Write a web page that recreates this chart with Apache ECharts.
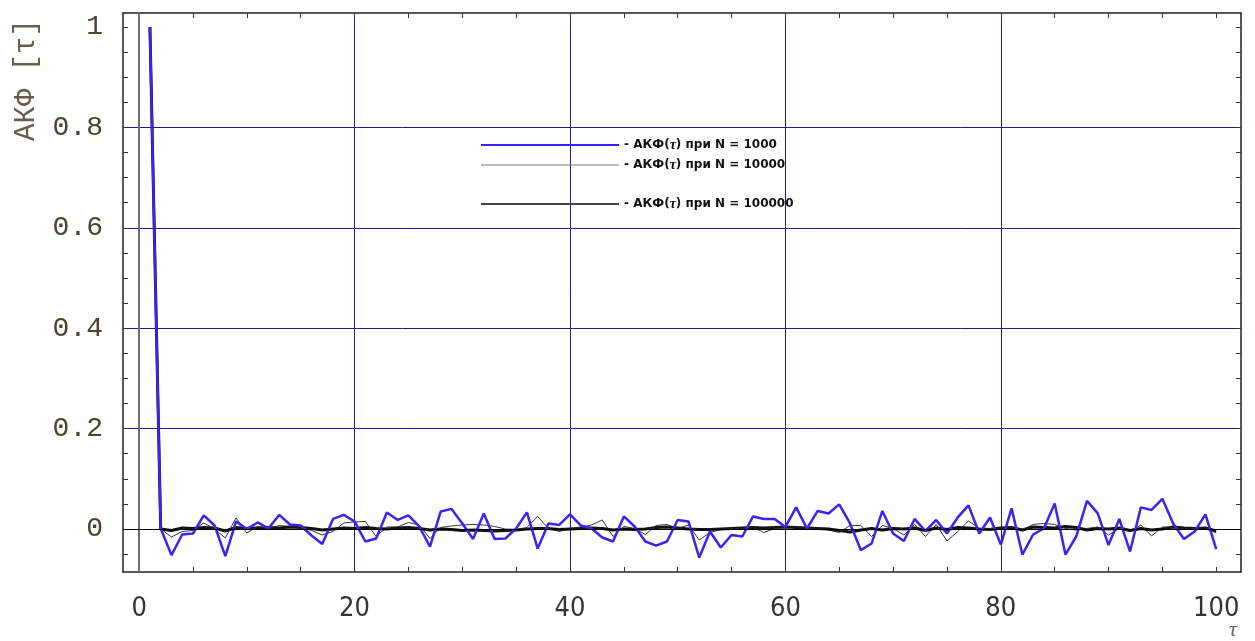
<!DOCTYPE html>
<html>
<head>
<meta charset="utf-8">
<title>АКФ</title>
<script src="https://cdn.jsdelivr.net/npm/echarts@6/dist/echarts.min.js"></script>
<style>
html, body { margin: 0; padding: 0; background: #fff; }
#main { width: 1255px; height: 641px; }
</style>
</head>
<body>
<div id="main"></div>
<script>
// lag values
const tau = [
    1, 2, 3, 4, 5, 6, 7, 8, 9, 10, 11, 12, 13, 14, 15, 16, 17, 18, 19, 20,
    21, 22, 23, 24, 25, 26, 27, 28, 29, 30, 31, 32, 33, 34, 35, 36, 37, 38, 39, 40,
    41, 42, 43, 44, 45, 46, 47, 48, 49, 50, 51, 52, 53, 54, 55, 56, 57, 58, 59, 60,
    61, 62, 63, 64, 65, 66, 67, 68, 69, 70, 71, 72, 73, 74, 75, 76, 77, 78, 79, 80,
    81, 82, 83, 84, 85, 86, 87, 88, 89, 90, 91, 92, 93, 94, 95, 96, 97, 98, 99, 100
];

// N = 1000
const acf1000 = [
    1, 0.001, -0.052, -0.011, -0.009, 0.027, 0.007, -0.054, 0.015, 0.000,
    0.013, 0.001, 0.028, 0.009, 0.007, -0.013, -0.030, 0.020, 0.028, 0.015,
    -0.025, -0.019, 0.033, 0.018, 0.027, 0.005, -0.035, 0.035, 0.040, 0.011,
    -0.020, 0.031, -0.020, -0.019, 0.001, 0.033, -0.039, 0.011, 0.008, 0.029,
    0.007, 0.001, -0.017, -0.025, 0.025, 0.005, -0.025, -0.033, -0.025, 0.018,
    0.015, -0.057, -0.005, -0.037, -0.012, -0.015, 0.025, 0.020, 0.020, 0.004,
    0.043, 0.001, 0.036, 0.031, 0.049, 0.011, -0.042, -0.029, 0.036, -0.009,
    -0.024, 0.020, -0.004, 0.018, -0.009, 0.023, 0.047, -0.009, 0.023, -0.031,
    0.041, -0.051, -0.011, 0.001, 0.051, -0.051, -0.015, 0.056, 0.031, -0.032,
    0.020, -0.045, 0.043, 0.038, 0.060, 0.011, -0.020, -0.005, 0.029, -0.040
];

// N = 10000
const acf10000 = [
    1, 0.000, -0.016, -0.005, -0.003, 0.012, 0.000, -0.018, 0.022, -0.008,
    0.005, 0.000, 0.007, 0.005, 0.004, -0.003, -0.012, -0.005, 0.012, 0.014,
    0.015, -0.015, 0.004, 0.004, 0.013, 0.008, -0.019, 0.003, 0.006, 0.008,
    0.009, 0.008, 0.005, 0.000, -0.002, 0.003, 0.025, 0.001, -0.005, 0.001,
    0.004, 0.008, 0.018, -0.015, 0.005, 0.001, -0.011, 0.007, 0.009, 0.001,
    0.008, -0.022, -0.007, -0.001, 0.001, 0.001, 0.004, -0.007, 0.001, 0.004,
    0.004, 0.001, 0.002, -0.002, -0.007, 0.007, 0.007, -0.015, 0.007, 0.001,
    -0.012, 0.009, -0.015, 0.009, -0.024, -0.005, 0.016, 0.001, 0.001, 0.002,
    0.004, -0.002, 0.009, 0.011, 0.009, 0.001, -0.002, 0.001, 0.004, -0.012,
    0.001, -0.005, 0.008, -0.014, 0.004, 0.003, 0.000, 0.001, 0.003, -0.008
];

// N = 100000
const acf100000 = [
    1, 0.000, -0.003, 0.002, 0.001, 0.003, 0.002, -0.004, 0.003, 0.001,
    0.002, 0.003, 0.002, 0.004, 0.003, 0.001, -0.002, 0.000, 0.002, 0.001,
    0.003, 0.001, 0.000, 0.002, 0.003, 0.001, -0.002, 0.000, -0.001, -0.003,
    -0.002, -0.003, -0.004, -0.003, -0.002, 0.000, 0.001, 0.001, -0.001, 0.000,
    0.001, 0.002, 0.001, -0.002, 0.000, -0.001, 0.000, 0.003, 0.004, 0.002,
    0.000, -0.001, -0.001, 0.000, 0.001, 0.002, 0.003, 0.002, 0.003, 0.004,
    0.003, 0.002, 0.001, 0.000, -0.003, -0.006, -0.002, 0.001, -0.002, 0.001,
    0.000, 0.002, -0.003, 0.002, -0.001, 0.003, 0.002, 0.000, -0.001, 0.002,
    0.003, -0.002, 0.004, 0.003, 0.002, 0.005, 0.003, -0.002, 0.001, 0.000,
    0.002, -0.003, 0.001, -0.002, 0.000, 0.004, 0.002, 0.001, 0.002, -0.004
];

const seriesNames = ['N = 1000', 'N = 10000', 'N = 100000'];

// ticks and labels
const xLabels = [0, 20, 40, 60, 80, 100];
const xTicks = [0, 5, 10, 15, 20, 25, 30, 35, 40, 45, 50, 55, 60, 65, 70, 75, 80, 85, 90, 95, 100];
const xGrid = [20, 40, 60, 80];
const yLabels = [0, 0.2, 0.4, 0.6, 0.8, 1];
const yTicks = [-0.05, 0, 0.05, 0.1, 0.15, 0.2, 0.25, 0.3, 0.35, 0.4, 0.45, 0.5,
    0.55, 0.6, 0.65, 0.7, 0.75, 0.8, 0.85, 0.9, 0.95, 1];
const yGrid = [0.2, 0.4, 0.6, 0.8];

const X_MIN = -1.5, X_MAX = 102.3;
const Y_MIN = -0.0857, Y_MAX = 1.028;

const pairs = arr => tau.map((t, i) => [t, arr[i]]);

const frameLine = { show: true, onZero: false, lineStyle: { color: '#222', width: 1.5 } };
const gridLine = { show: true, lineStyle: { color: '#1c1c8a', width: 1 } };

const legendText = {
    fontFamily: '"DejaVu Sans", Verdana, sans-serif',
    fontWeight: 'bold', fontSize: 12, color: '#111',
    rich: { t: { fontFamily: '"Liberation Serif", serif', fontStyle: 'italic', fontSize: 14, color: '#111' } }
};

const myChart = echarts.init(document.getElementById('main'));

const option = {
    animation: false,
    backgroundColor: '#fff',
    grid: { left: 123, right: 14, top: 13, bottom: 69 },
    legend: [
        {
            data: [
                { name: seriesNames[0], lineStyle: { color: '#3c22f5', width: 2 } },
                { name: seriesNames[1], lineStyle: { color: '#777', width: 1 } }
            ],
            orient: 'vertical', left: 480, top: 138, padding: 0,
            itemWidth: 138, itemHeight: 14, itemGap: 6,
            itemStyle: { opacity: 0 },
            selectedMode: false,
            formatter: name => '- АКФ({t|τ}) при ' + name,
            textStyle: legendText
        },
        {
            data: [
                { name: seriesNames[2], lineStyle: { color: '#444', width: 2 } }
            ],
            orient: 'vertical', left: 480, top: 197, padding: 0,
            itemWidth: 138, itemHeight: 14,
            itemStyle: { opacity: 0 },
            selectedMode: false,
            formatter: name => '- АКФ({t|τ}) при ' + name,
            textStyle: legendText
        }
    ],
    xAxis: [
        {
            type: 'value', position: 'bottom', min: X_MIN, max: X_MAX,
            axisLine: frameLine,
            axisTick: { show: true, inside: true, length: 5, customValues: xTicks, lineStyle: { color: '#333' } },
            axisLabel: {
                customValues: xLabels, margin: 23,
                fontFamily: '"Liberation Sans Narrow", "DejaVu Sans Condensed", sans-serif',
                fontSize: 27, color: '#333'
            },
            splitLine: { show: false }
        },
        {
            type: 'value', position: 'top', min: X_MIN, max: X_MAX,
            axisLine: frameLine,
            axisTick: { show: true, inside: true, length: 5, customValues: xTicks, lineStyle: { color: '#333' } },
            axisLabel: { show: false },
            splitLine: { show: false }
        },
        {
            type: 'value', position: 'bottom', min: X_MIN, max: X_MAX,
            axisLine: { show: false },
            axisTick: { show: false, customValues: xGrid },
            axisLabel: { show: false },
            splitLine: gridLine
        }
    ],
    yAxis: [
        {
            type: 'value', position: 'left', min: Y_MIN, max: Y_MAX,
            axisLine: frameLine,
            axisTick: { show: true, inside: true, length: 5, customValues: yTicks, lineStyle: { color: '#333' } },
            axisLabel: {
                customValues: yLabels, margin: 20,
                formatter: v => String(Math.round(v * 10) / 10),
                fontFamily: '"Liberation Mono", monospace',
                fontSize: 28, color: '#4a4232'
            },
            splitLine: { show: false }
        },
        {
            type: 'value', position: 'right', min: Y_MIN, max: Y_MAX,
            axisLine: frameLine,
            axisTick: { show: true, inside: true, length: 5, customValues: yTicks, lineStyle: { color: '#333' } },
            axisLabel: { show: false },
            splitLine: { show: false }
        },
        {
            type: 'value', position: 'left', min: Y_MIN, max: Y_MAX,
            axisLine: { show: false },
            axisTick: { show: false, customValues: yGrid },
            axisLabel: { show: false },
            splitLine: gridLine
        }
    ],
    graphic: [
        {
            type: 'text', x: 26, y: 80, rotation: Math.PI / 2,
            style: {
                text: 'АКФ [τ]', fill: '#6a5c4a',
                font: '29px "Liberation Mono", monospace',
                align: 'center', verticalAlign: 'middle',
                textAlign: 'center', textVerticalAlign: 'middle'
            }
        },
        {
            type: 'text', x: 1233, y: 630,
            style: {
                text: 'τ', fill: '#666',
                font: 'italic 22px "Liberation Serif", serif',
                align: 'center', verticalAlign: 'middle',
                textAlign: 'center', textVerticalAlign: 'middle'
            }
        }
    ],
    series: [
        {
            name: seriesNames[2], type: 'line', data: pairs(acf100000),
            xAxisIndex: 0, yAxisIndex: 0, symbol: 'none',
            lineStyle: { color: '#111', width: 3 }, itemStyle: { color: '#333' },
            markLine: {
                silent: true, symbol: ['none', 'none'], label: { show: false },
                data: [
                    { xAxis: 0, lineStyle: { color: '#707070', width: 2, type: 'solid' } },
                    { yAxis: 0, lineStyle: { color: '#000', width: 1, type: 'solid' } }
                ]
            }
        },
        {
            name: seriesNames[1], type: 'line', data: pairs(acf10000),
            xAxisIndex: 0, yAxisIndex: 0, symbol: 'none',
            lineStyle: { color: '#222', width: 0.9 }, itemStyle: { color: '#777' }
        },
        {
            name: seriesNames[0], type: 'line', data: pairs(acf1000),
            xAxisIndex: 0, yAxisIndex: 0, symbol: 'none',
            lineStyle: { color: '#3c22f5', width: 2.5 }, itemStyle: { color: '#3c22f5' }
        }
    ]
};

myChart.setOption(option);
window.onresize = function () {
    myChart.resize();
};
</script>
</body>
</html>
